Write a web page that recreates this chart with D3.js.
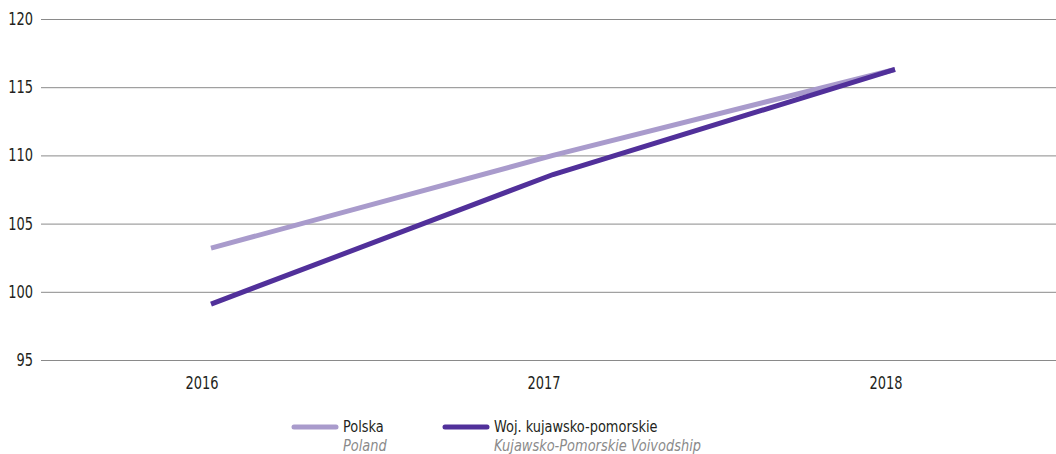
<!DOCTYPE html>
<html><head><meta charset="utf-8">
<script src="https://cdn.jsdelivr.net/npm/d3@7"></script>
<style>
body{margin:0;background:#fff;}
text{font-family:"Liberation Sans Narrow","DejaVu Sans Condensed","Roboto Condensed",sans-serif;}
</style></head>
<body><svg id="c" width="1056" height="454"></svg>
<script>
const years = ["2016","2017","2018"];
const polska = [103.2, 110.0, 116.3];
const kujawsko = [99.1, 108.6, 116.3];
const yTicks = [95,100,105,110,115,120];
const seriesNames = ["Polska","Woj. kujawsko-pomorskie"];
const seriesNamesEn = ["Poland","Kujawsko-Pomorskie Voivodship"];
const colors = ["#a99bcc","#51309a"];

const SX = 0.85;
const svg = d3.select("#c");
const y = d3.scaleLinear().domain([95,120]).range([360,19]);
const x = d3.scalePoint().domain(years).range([211,895]);

function label(parent, tx, ty, txt, anchor, opts){
  const sx = opts.sx || SX;
  const g = parent.append("g").attr("transform",`translate(${tx},${ty}) scale(${sx},1)`);
  const t = g.append("text").attr("x",0).attr("y",0).attr("text-anchor",anchor)
    .attr("font-size",opts.size||17).attr("fill",opts.fill||"#231f20").text(txt);
  if(opts.italic) t.attr("font-style","italic");
  return t;
}

// grid
svg.append("g").selectAll("line").data(yTicks).join("line")
  .attr("x1",41).attr("x2",1056)
  .attr("y1",d=>y(d)+0.5).attr("y2",d=>y(d)+0.5)
  .attr("stroke","#8a8a8a").attr("stroke-width",1);
const yl = svg.append("g");
yTicks.forEach(d=>label(yl,33,y(d)+6,d,"end",{}));

// x labels
const xl = svg.append("g");
years.forEach(d=>label(xl,x(d)-9,389,d,"middle",{}));

const line = d3.line().x((d,i)=>x(years[i])).y(d=>y(d));
[polska,kujawsko].forEach((s,i)=>{
  svg.append("path").datum(s).attr("d",line)
    .attr("fill","none").attr("stroke",colors[i]).attr("stroke-width",5)
    .attr("stroke-linecap","butt");
});

// legend
const lx = [294,445];
seriesNames.forEach((n,i)=>{
  const g = svg.append("g");
  g.append("line").attr("x1",lx[i]).attr("x2",lx[i]+42).attr("y1",427).attr("y2",427)
    .attr("stroke",colors[i]).attr("stroke-width",5).attr("stroke-linecap","round");
  label(g,lx[i]+49,432,n,"start",{size:16,sx:0.9});
  label(g,lx[i]+49,451,seriesNamesEn[i],"start",{size:16,sx:0.9,italic:true,fill:"#8a8a8a"});
});
</script></body></html>
